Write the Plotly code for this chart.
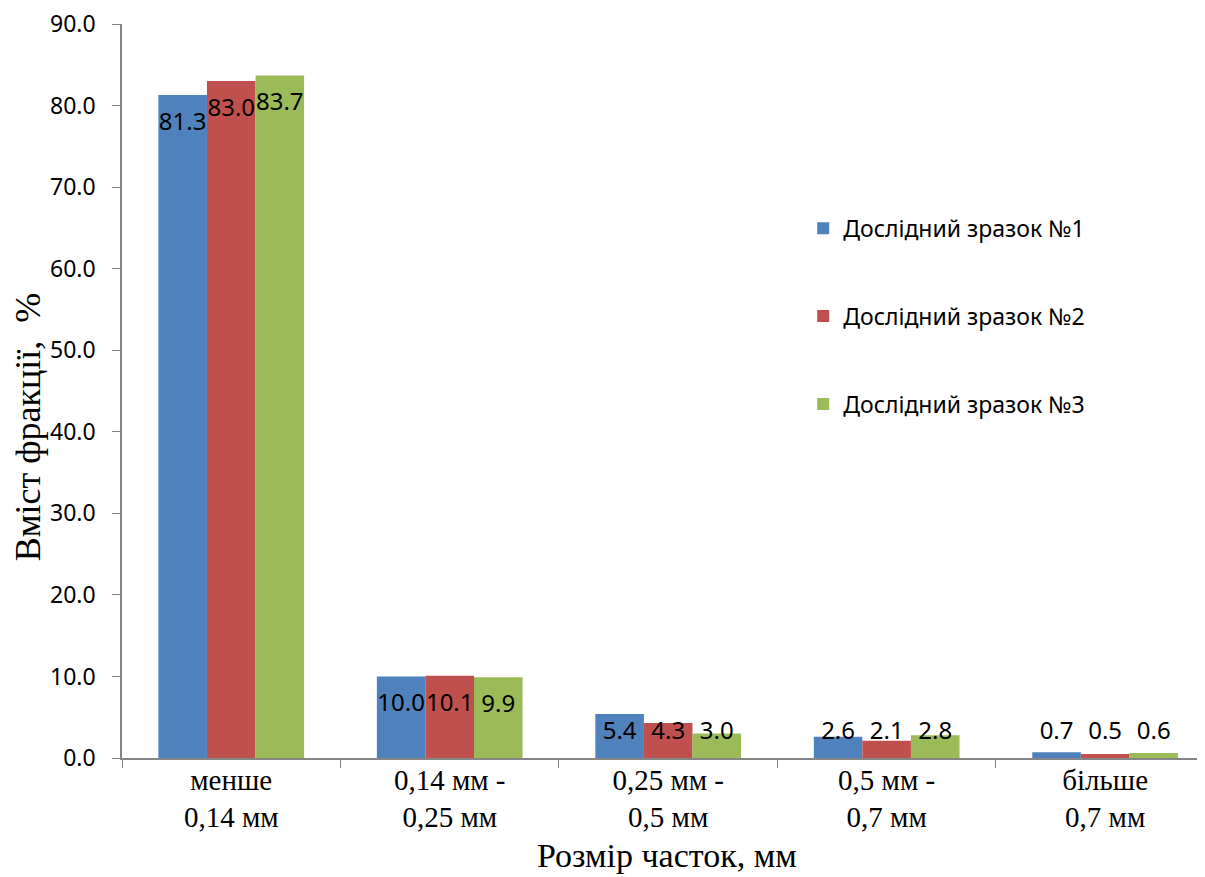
import plotly.graph_objects as go

categories = ["менше<br>0,14 мм", "0,14 мм -<br>0,25 мм", "0,25 мм -<br>0,5 мм", "0,5 мм -<br>0,7 мм", "більше<br>0,7 мм"]
series_names = ["Дослідний зразок №1", "Дослідний зразок №2", "Дослідний зразок №3"]
sample1 = [81.3, 10.0, 5.4, 2.6, 0.7]
sample2 = [83.0, 10.1, 4.3, 2.1, 0.5]
sample3 = [83.7, 9.9, 3.0, 2.8, 0.6]
colors = ["#4F81BD", "#C0504D", "#9BBB59"]
y_ticks = [0, 10, 20, 30, 40, 50, 60, 70, 80, 90]

# label placement style (axis units): labels sit inside the bar top, but never below a floor
LABEL_DROP = 3.56
LABEL_FLOOR = 3.07

fig = go.Figure()
for i, (name, vals) in enumerate(zip(series_names, [sample1, sample2, sample3])):
    fig.add_trace(go.Bar(
        x=categories, y=vals, name=name,
        marker=dict(color=colors[i], line=dict(width=0)),
        offsetgroup=f"s{i}",
        legendgroup=f"g{i}",
        hoverinfo="x+y+name",
    ))
for i, vals in enumerate([sample1, sample2, sample3]):
    fig.add_trace(go.Scatter(
        x=categories, y=[max(v - LABEL_DROP, LABEL_FLOOR) for v in vals],
        mode="text", text=[f"{v:.1f}" for v in vals],
        textposition="middle center",
        textfont=dict(family="Noto Sans", size=24, color="black"),
        offsetgroup=f"s{i}",
        showlegend=False, hoverinfo="skip", cliponaxis=False,
    ))

fig.update_layout(
    width=1205, height=877,
    margin=dict(l=114, r=8, t=16, b=127),
    paper_bgcolor="white", plot_bgcolor="white",
    barmode="group", bargap=0.333, bargroupgap=0,
    scattermode="group", scattergap=0.333,
    font=dict(family="Noto Sans", size=22, color="black"),
    legend=dict(
        x=0.629, y=0.751, xanchor="left", yanchor="top",
        font=dict(family="Noto Sans", size=23, color="black"),
        tracegroupgap=55, bgcolor="rgba(0,0,0,0)",
    ),
    showlegend=True,
    annotations=[
        dict(text="Вміст фракції,  %", textangle=-90, xref="paper", yref="paper",
             x=-0.0868, y=0.452, xanchor="center", yanchor="middle", showarrow=False,
             font=dict(family="Liberation Serif", size=36, color="black")),
        dict(text="Розмір часток, мм", xref="paper", yref="paper",
             x=0.503, y=-0.133, xanchor="center", yanchor="middle", showarrow=False,
             font=dict(family="Liberation Serif", size=34, color="black")),
    ],
)
fig.update_xaxes(
    range=[-0.5, 4.457],
    showline=True, linecolor="#868686", linewidth=1.5,
    ticks="outside", tickson="boundaries", ticklen=8, tickcolor="#868686",
    ticklabelstandoff=-5,
    tickfont=dict(family="Liberation Serif", size=29, color="black"),
    showgrid=False, automargin=False,
)
fig.update_yaxes(
    range=[0, 90], tickvals=y_ticks, tickformat=".1f",
    showline=True, linecolor="#868686", linewidth=1.5,
    ticks="outside", ticklen=8, tickcolor="#868686",
    ticklabelstandoff=12, ticklabeloverflow="allow",
    tickfont=dict(family="Noto Sans", size=23, color="black"),
    showgrid=False, zeroline=False, automargin=False,
)

fig.write_html("out.html")
